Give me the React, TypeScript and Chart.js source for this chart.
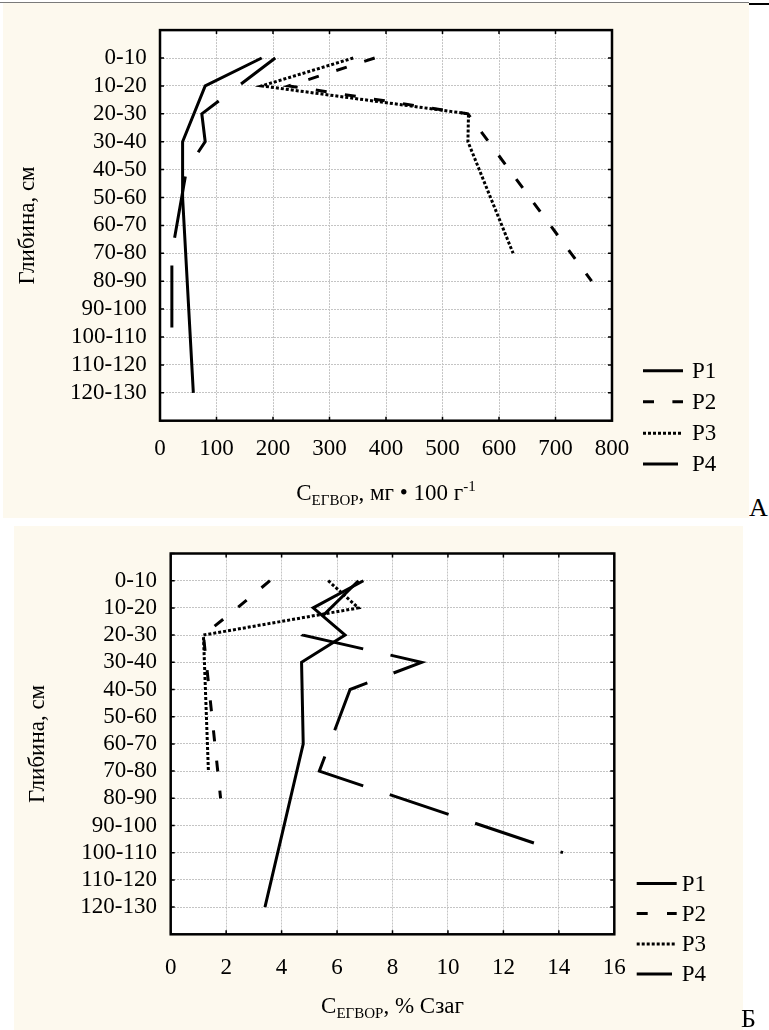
import React, { useEffect, useRef } from 'react';
import { Chart, registerables } from 'chart.js';

Chart.register(...registerables);

// ---------------- data ----------------
const depthLabels = ['0-10', '10-20', '20-30', '30-40', '40-50', '50-60', '60-70', '70-80', '80-90', '90-100', '100-110', '110-120', '120-130'];
const seriesLabels = ['P1', 'P2', 'P3', 'P4'];

// Panel А: C (mg per 100 g), one value per depth layer (null = no sample)
const mgP1 = [180, 80, null, 40, 40, 40, null, null, null, null, null, null, 59];
const mgP2 = [380, 228, 545, null, null, null, null, null, 764, null, null, null, null];
const mgP3 = [342, 180, 546, 545, null, null, null, 625, null, null, null, null, null];
const mgP4 = [204, null, 74, 80, 47, null, null, 21, null, null, 21, null, null];
const mgAxis = { min: 0, max: 800, step: 100 };

// Panel Б: C (% of total C)
const pctP1 = [6.95, 5.14, 6.29, 4.72, null, null, 4.78, null, null, null, null, null, 3.4];
const pctP2 = [3.58, 2.4, 1.18, null, null, null, null, null, 1.8, null, null, null, null];
const pctP3 = [5.68, 6.77, 1.18, null, null, null, null, 1.36, null, null, null, null, null];
const pctP4 = [6.77, null, 4.78, 9.05, 6.47, null, null, 5.36, null, null, 14.15, null, null];
const pctAxis = { min: 0, max: 16, step: 2 };

const yAxisTitle = 'Глибина, см';
const titleA = [
  { t: 'C', s: 23, dy: 0 },
  { t: 'ЕГВОР', s: 15, dy: 5 },
  { t: ', мг • 100 г', s: 23, dy: 0 },
  { t: '-1', s: 15, dy: -9 },
];
const titleB = [
  { t: 'C', s: 23, dy: 0 },
  { t: 'ЕГВОР', s: 15, dy: 5 },
  { t: ', % Сзаг', s: 23, dy: 0 },
];

// ---------------- styles ----------------
const FONT = "'Liberation Serif', 'Times New Roman', Times, serif";
const CREAM = '#fdf9ee';
const GRID = '#c4c4c4';

type Geo = {
  left: number; top: number; width: number; height: number;
  area: { left: number; top: number; right: number; bottom: number };
  xTickPad: number; yTickPad: number; yTitleX: number; xTitleBaseline: number;
  legX0: number; legX1: number; legX1Last: number; legTextX: number; legY: number[];
  dashes: number[][]; dashOffsets: number[];
};

const GEO_A: Geo = {
  left: 3, top: 3, width: 746, height: 515,
  area: { left: 160, top: 23.3, right: 612, bottom: 420.7 },
  xTickPad: 14.5, yTickPad: 13.3, yTitleX: 27.5, xTitleBaseline: 500,
  legX0: 643, legX1: 683, legX1Last: 678, legTextX: 692, legY: [370.7, 401.7, 433.3, 464],
  dashes: [[], [11, 18.4], [3, 2], [62, 28]],
  dashOffsets: [0, 0, 0, 19],
};
const GEO_B: Geo = {
  left: 14, top: 526, width: 729, height: 504,
  area: { left: 170.7, top: 547.4, right: 614.3, bottom: 934.3 },
  xTickPad: 19.5, yTickPad: 13.7, yTitleX: 38.3, xTitleBaseline: 1013,
  legX0: 636.7, legX1: 676.7, legX1Last: 672, legTextX: 681.7, legY: [883.5, 913.5, 944, 974],
  dashes: [[], [11, 19.3], [3, 2], [62, 28]],
  dashOffsets: [0, 0, 0, 13],
};

const X_AXIS_H = 60;

function DepthChart({ geo, series, axis, title }: { geo: Geo; series: (number | null)[][]; axis: { min: number; max: number; step: number }; title: { t: string; s: number; dy: number }[] }) {
  const ref = useRef<HTMLCanvasElement>(null);
  useEffect(() => {
    const canvas = ref.current!;
    const L = geo.left, T = geo.top;
    const aL = geo.area.left - L, aT = geo.area.top - T, aR = geo.area.right - L, aB = geo.area.bottom - T;
    const font = { family: FONT, size: 23 };

    const framePlugin = {
      id: 'frame',
      beforeDraw(chart: any) {
        const { ctx, chartArea: a } = chart;
        ctx.save();
        ctx.fillStyle = '#ffffff';
        ctx.fillRect(a.left, a.top, a.right - a.left, a.bottom - a.top);
        ctx.restore();
      },
      afterDraw(chart: any) {
        const { ctx, chartArea: a, scales } = chart;
        const xs = scales.x, ys = scales.y;
        ctx.save();
        // inward ticks on all four sides
        ctx.strokeStyle = '#000';
        ctx.lineWidth = 1.5;
        ctx.beginPath();
        xs.ticks.forEach((t: any) => {
          const px = xs.getPixelForValue(t.value);
          ctx.moveTo(px, a.top); ctx.lineTo(px, a.top + 4);
          ctx.moveTo(px, a.bottom); ctx.lineTo(px, a.bottom - 4);
        });
        ys.ticks.forEach((t: any) => {
          const py = ys.getPixelForValue(t.value);
          ctx.moveTo(a.left, py); ctx.lineTo(a.left + 4, py);
          ctx.moveTo(a.right, py); ctx.lineTo(a.right - 4, py);
        });
        ctx.stroke();
        // frame
        ctx.lineWidth = 2.5;
        ctx.strokeRect(a.left, a.top, a.right - a.left, a.bottom - a.top);

        // x-axis title with subscript / superscript
        ctx.fillStyle = '#000';
        ctx.textBaseline = 'alphabetic';
        ctx.textAlign = 'left';
        let total = 0;
        const widths = title.map((p) => {
          ctx.font = `${p.s}px ${FONT}`;
          const w = ctx.measureText(p.t).width;
          total += w;
          return w;
        });
        let x = (a.left + a.right) / 2 - total / 2;
        const by = geo.xTitleBaseline - T;
        title.forEach((p, i) => {
          ctx.font = `${p.s}px ${FONT}`;
          ctx.fillText(p.t, x, by + p.dy);
          x += widths[i];
        });

        // legend
        chart.data.datasets.forEach((ds: any, i: number) => {
          const y = geo.legY[i] - T;
          const x0 = geo.legX0 - L;
          const x1 = (i === 3 ? geo.legX1Last : geo.legX1) - L;
          ctx.save();
          ctx.strokeStyle = ds.borderColor;
          ctx.lineWidth = ds.borderWidth;
          ctx.lineCap = 'butt';
          ctx.setLineDash(i === 3 ? [] : ds.borderDash);
          ctx.beginPath();
          ctx.moveTo(x0, y);
          ctx.lineTo(x1, y);
          ctx.stroke();
          ctx.restore();
          ctx.font = `23px ${FONT}`;
          ctx.textBaseline = 'middle';
          ctx.fillText(ds.label, geo.legTextX - L, y + 1);
        });
        ctx.restore();
      },
    };

    const chart = new Chart(canvas, {
      type: 'line',
      data: {
        datasets: series.map((vals, i) => ({
          label: seriesLabels[i],
          data: vals.map((v, j) => ({ x: v, y: j })),
          borderColor: '#000',
          backgroundColor: '#000',
          borderWidth: 3,
          borderDash: geo.dashes[i],
          borderDashOffset: geo.dashOffsets[i],
          borderCapStyle: 'butt',
          borderJoinStyle: 'miter',
          pointRadius: 0,
          pointHoverRadius: 0,
          tension: 0,
          spanGaps: true,
          fill: false,
        })) as any,
      },
      options: {
        responsive: false,
        animation: false,
        events: [],
        layout: { padding: { left: 0, top: aT, right: geo.width - aR, bottom: geo.height - aB - X_AXIS_H } },
        plugins: { legend: { display: false }, tooltip: { enabled: false } },
        scales: {
          x: {
            type: 'linear',
            position: 'bottom',
            min: axis.min,
            max: axis.max,
            ticks: { stepSize: axis.step, padding: geo.xTickPad, font, color: '#000', maxRotation: 0, autoSkip: false },
            grid: { color: GRID, lineWidth: 1, drawTicks: false },
            border: { display: false, dash: [2, 1] },
            afterFit: (s: any) => { s.height = X_AXIS_H; },
          },
          y: {
            type: 'linear',
            position: 'left',
            reverse: true,
            min: -1,
            max: depthLabels.length,
            ticks: {
              stepSize: 1,
              autoSkip: false,
              padding: geo.yTickPad,
              font,
              color: '#000',
              callback: (v: any) => depthLabels[v as number] ?? '',
            },
            grid: { color: GRID, lineWidth: 1, drawTicks: false },
            border: { display: false, dash: [2, 1] },
            title: { display: true, text: yAxisTitle, font, color: '#000', padding: { top: geo.yTitleX - L - 13.8, bottom: 0 } },
            afterFit: (s: any) => { s.width = aL; },
          },
        },
      } as any,
      plugins: [framePlugin],
    });
    return () => chart.destroy();
  }, []);
  return (
    <canvas
      ref={ref}
      width={geo.width}
      height={geo.height}
      style={{ position: 'absolute', left: geo.left, top: geo.top, width: geo.width, height: geo.height, background: CREAM }}
    />
  );
}

export default function App() {
  return (
    <div style={{ position: 'absolute', left: 0, top: 0, width: 769, height: 1030, fontFamily: FONT, overflow: 'hidden' }}>
      <div style={{ position: 'absolute', left: 0, top: 2, width: 749, height: 1, background: '#7a7a7a' }} />
      <div style={{ position: 'absolute', left: 749, top: 3, width: 20, height: 2, background: '#000' }} />
      <DepthChart geo={GEO_A} series={[mgP1, mgP2, mgP3, mgP4]} axis={mgAxis} title={titleA} />
      <DepthChart geo={GEO_B} series={[pctP1, pctP2, pctP3, pctP4]} axis={pctAxis} title={titleB} />
      <div style={{ position: 'absolute', left: 749, top: 495, fontSize: 26, lineHeight: 1, color: '#000' }}>А</div>
      <div style={{ position: 'absolute', left: 741, top: 1006, fontSize: 26, lineHeight: 1, color: '#000' }}>Б</div>
    </div>
  );
}
